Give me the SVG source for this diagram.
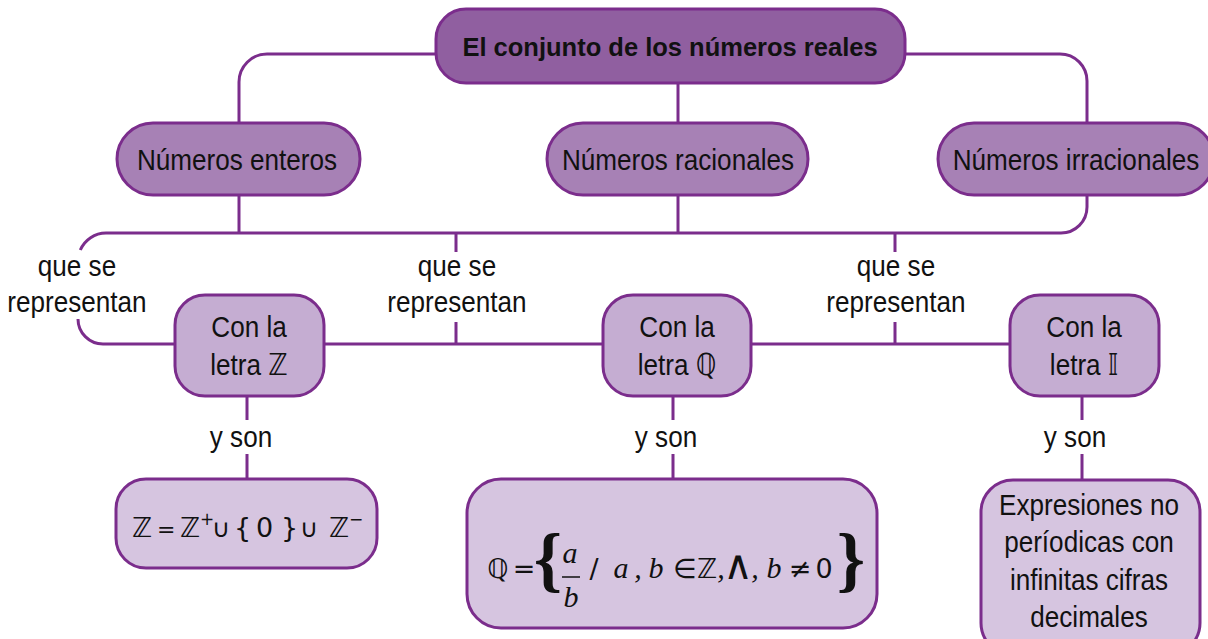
<svg xmlns="http://www.w3.org/2000/svg" width="1208" height="639" viewBox="0 0 1208 639">
<style>
.box{stroke:#7b2d8c;stroke-width:3}
.l1{fill:#905fa0}
.l2{fill:#a781b5}
.l3{fill:#c5add2}
.l4{fill:#d6c5e0}
.ln{fill:none;stroke:#7b2d8c;stroke-width:3}
.t{font-family:"Liberation Sans","DejaVu Sans",Arial,sans-serif;font-size:30px;fill:#111;text-anchor:middle}
.tb{font-family:"Liberation Sans",Arial,sans-serif;font-size:25.5px;font-weight:bold;fill:#111;text-anchor:middle}
.m{font-family:"DejaVu Sans",sans-serif;font-size:27px;fill:#111}
.mc{font-family:"DejaVu Sans",sans-serif;font-size:27px;fill:#111;text-anchor:middle}
.it{font-family:"Liberation Serif","Times New Roman",serif;font-style:italic;font-size:30px;fill:#111;text-anchor:middle}
.br{font-family:"Liberation Serif","Times New Roman",serif;font-weight:bold;font-size:72px;fill:#111;text-anchor:middle}
</style>
<g id="connectors">
<path class="ln" d="M436 54 H267 A28 28 0 0 0 239 82 V123"/>
<path class="ln" d="M905 54 H1060 A27 27 0 0 1 1087 81 V123"/>
<path class="ln" d="M678 83 V123"/>
<path class="ln" d="M239 195 V233"/>
<path class="ln" d="M678 195 V233"/>
<path class="ln" d="M1087 195 V207 A26 26 0 0 1 1061 233 H106 A28 28 0 0 0 80.3 250"/>
<path class="ln" d="M78 319 A25 25 0 0 0 103 344 H175"/>
<path class="ln" d="M456 233 V252 M456 322 V344"/>
<path class="ln" d="M895 233 V252 M895 322 V344"/>
<path class="ln" d="M324 344 H603 M751 344 H1010"/>
<path class="ln" d="M247 396 V420 M247 454 V480"/>
<path class="ln" d="M673 396 V420 M673 454 V480"/>
<path class="ln" d="M1082 396 V420 M1082 454 V480"/>
<text class="t" transform="translate(77,276) scale(0.87,1)"><tspan x="0">que se</tspan><tspan x="0" dy="36">representan</tspan></text>
<text class="t" transform="translate(457,276) scale(0.87,1)"><tspan x="0">que se</tspan><tspan x="0" dy="36">representan</tspan></text>
<text class="t" transform="translate(896,276) scale(0.87,1)"><tspan x="0">que se</tspan><tspan x="0" dy="36">representan</tspan></text>
<text class="t" transform="translate(241,447) scale(0.87,1)">y son</text>
<text class="t" transform="translate(666,447) scale(0.87,1)">y son</text>
<text class="t" transform="translate(1075,447) scale(0.87,1)">y son</text>
</g>
<g id="n-reales">
<rect class="box l1" x="436" y="9" width="469" height="74" rx="30"/>
<text class="tb" x="670" y="56">El conjunto de los números reales</text>
</g>
<g id="n-enteros">
<rect class="box l2" x="117" y="123" width="243" height="72" rx="36"/>
<text class="t" transform="translate(237,170) scale(0.87,1)">Números enteros</text>
</g>
<g id="n-racionales">
<rect class="box l2" x="547" y="123" width="261" height="72" rx="36"/>
<text class="t" transform="translate(678,170) scale(0.87,1)">Números racionales</text>
</g>
<g id="n-irracionales">
<rect class="box l2" x="938" y="123" width="276" height="72" rx="36"/>
<text class="t" transform="translate(1076,170) scale(0.87,1)">Números irracionales</text>
</g>
<g id="n-letraZ">
<rect class="box l3" x="175" y="295" width="149" height="101" rx="30"/>
<text class="t" transform="translate(249,337) scale(0.87,1)"><tspan x="0">Con la</tspan><tspan x="0" dy="38">letra ℤ</tspan></text>
</g>
<g id="n-letraQ">
<rect class="box l3" x="603" y="295" width="148" height="101" rx="30"/>
<text class="t" transform="translate(677,337) scale(0.87,1)"><tspan x="0">Con la</tspan><tspan x="0" dy="38">letra ℚ</tspan></text>
</g>
<g id="n-letraI">
<rect class="box l3" x="1010" y="295" width="149" height="101" rx="30"/>
<text class="t" transform="translate(1084,337) scale(0.87,1)"><tspan x="0">Con la</tspan><tspan x="0" dy="38">letra 𝕀</tspan></text>
</g>
<g id="n-formulaZ">
<rect class="box l4" x="116" y="479" width="261" height="89" rx="30"/>
<text class="m" y="537"><tspan x="132">ℤ</tspan><tspan x="157" font-size="22">=</tspan><tspan x="180">ℤ</tspan><tspan x="200" dy="-12" font-size="17">+</tspan><tspan x="212" dy="12" font-size="25">∪</tspan><tspan x="234">{</tspan><tspan x="256">0</tspan><tspan x="281">}</tspan><tspan x="300" font-size="25">∪</tspan><tspan x="329">ℤ</tspan><tspan x="349" dy="-12" font-size="17">−</tspan></text>
</g>
<g id="n-formulaQ">
<rect class="box l4" x="467" y="479" width="410" height="149" rx="34"/>
<text class="mc" x="498" y="578">ℚ</text>
<text class="mc" x="524" y="578" font-size="20">=</text>
<text class="br" x="548" y="583">{</text>
<text class="it" x="570" y="563">a</text>
<line x1="562" y1="577" x2="580" y2="577" stroke="#111" stroke-width="1.5"/>
<text class="it" x="571" y="607">b</text>
<text class="mc" x="594" y="578" font-size="22">/</text>
<text class="it" x="621" y="578">a</text>
<text class="it" x="638" y="578">,</text>
<text class="it" x="656" y="578">b</text>
<text class="mc" x="685" y="578" font-size="25">∈</text>
<text class="mc" x="707" y="578">ℤ</text>
<text class="it" x="721" y="578">,</text>
<text class="mc" transform="translate(738,579) scale(1.5)" font-size="24">∧</text>
<text class="it" x="755" y="578">,</text>
<text class="it" x="774" y="578">b</text>
<text class="mc" x="800" y="578" font-size="20">≠</text>
<text class="mc" x="824" y="578">0</text>
<text class="br" x="851" y="583">}</text>
</g>
<g id="n-expresiones">
<rect class="box l4" x="981" y="480" width="219" height="175" rx="32"/>
<text class="t" transform="translate(1089,515) scale(0.87,1)"><tspan x="0">Expresiones no</tspan><tspan x="0" dy="37.3">períodicas con</tspan><tspan x="0" dy="37.3">infinitas cifras</tspan><tspan x="0" dy="37.3">decimales</tspan></text>
</g>
</svg>
